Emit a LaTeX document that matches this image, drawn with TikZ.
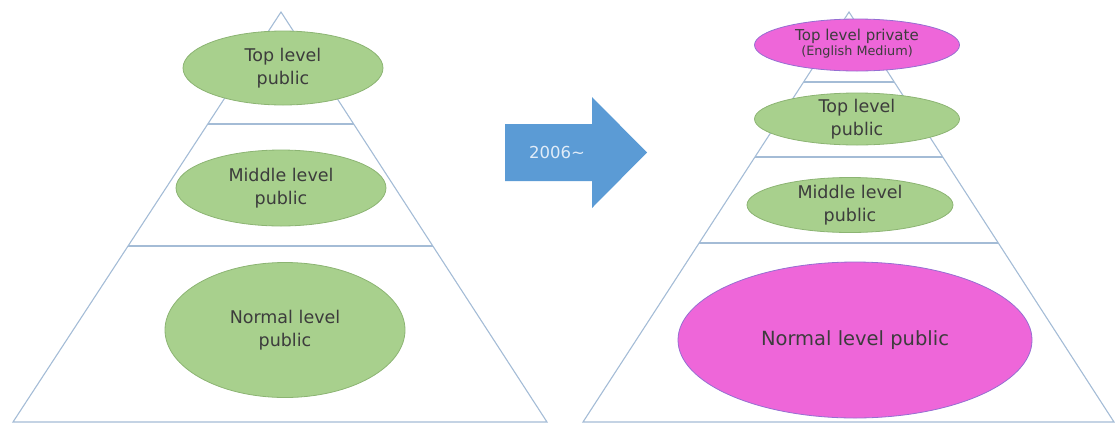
\documentclass[tikz,border=0pt]{standalone}
\usepackage{fontspec}
\setmainfont{DejaVu Sans}
\usetikzlibrary{shapes.geometric,calc}
\definecolor{tri}{RGB}{164,188,214}
\definecolor{gfill}{RGB}{168,208,141}
\definecolor{gline}{RGB}{140,180,115}
\definecolor{mfill}{RGB}{238,102,217}
\definecolor{mline}{RGB}{150,110,210}
\definecolor{arrowblue}{RGB}{91,155,213}
\definecolor{txtdark}{RGB}{60,60,60}
\definecolor{arrowtxt}{RGB}{225,236,248}
\begin{document}
\begin{tikzpicture}[x=1pt,y=-1pt,
  triline/.style={draw=tri,line width=1.1pt,line join=miter},
  greenell/.style={ellipse,draw=gline,fill=gfill,line width=0.8pt,inner sep=0pt},
  magell/.style={ellipse,draw=mline,fill=mfill,line width=0.8pt,inner sep=0pt},
  lbl/.style={align=center,text=txtdark,inner sep=0pt,font=\fontsize{17.5pt}{23pt}\selectfont}]
\useasboundingbox (0,0) rectangle (1115,440);
% left pyramid
\coordinate (LA) at (281,12);
\coordinate (LBL) at (13,422);
\coordinate (LBR) at (547,422);
\draw[triline] (LA) -- (LBL) -- (LBR) -- cycle;
\draw[triline] ($(LA)!0.2732!(LBL)$) -- ($(LA)!0.2732!(LBR)$);
\draw[triline] ($(LA)!0.5707!(LBL)$) -- ($(LA)!0.5707!(LBR)$);
% right pyramid
\coordinate (RA) at (849,12);
\coordinate (RBL) at (583,422);
\coordinate (RBR) at (1114,422);
\draw[triline] (RA) -- (RBL) -- (RBR) -- cycle;
\draw[triline] ($(RA)!0.1707!(RBL)$) -- ($(RA)!0.1707!(RBR)$);
\draw[triline] ($(RA)!0.3537!(RBL)$) -- ($(RA)!0.3537!(RBR)$);
\draw[triline] ($(RA)!0.5634!(RBL)$) -- ($(RA)!0.5634!(RBR)$);
% left ellipses
\node[greenell,minimum width=200pt,minimum height=74pt] (lt) at (283,68) {};
\node[lbl] (ltt) at (lt) {Top level\\public};
\node[greenell,minimum width=210pt,minimum height=76pt] (lm) at (281,188) {};
\node[lbl] (lmt) at (lm) {Middle level\\public};
\node[greenell,minimum width=240pt,minimum height=135pt] (ln) at (285,330) {};
\node[lbl] (lnt) at (ln) {Normal level\\public};
% arrow
\fill[arrowblue] (505,124) -- (592,124) -- (592,97) -- (647,152.5) -- (592,208) -- (592,181) -- (505,181) -- cycle;
\node[text=arrowtxt,inner sep=0pt,font=\fontsize{16.5pt}{19pt}\selectfont] (yr) at (557,152) {2006\textasciitilde};
% right ellipses
\node[magell,minimum width=205pt,minimum height=52pt] (rp) at (857,45) {};
\node[align=center,text=txtdark,inner sep=0pt] (rpt) at (857,44) {{\fontsize{15pt}{18pt}\selectfont Top level private}\\[1pt]{\fontsize{12.8pt}{14pt}\selectfont (English Medium)}};
\node[greenell,minimum width=205pt,minimum height=52pt] (rt) at (857,119) {};
\node[lbl] (rtt) at (rt) {Top level\\public};
\node[greenell,minimum width=206pt,minimum height=55pt] (rm) at (850,205) {};
\node[lbl] (rmt) at (rm) {Middle level\\public};
\node[magell,minimum width=354pt,minimum height=156pt] (rn) at (855,340) {};
\node[text=txtdark,inner sep=0pt,font=\fontsize{19.5pt}{23pt}\selectfont] (rnt) at (rn) {Normal level public};
\end{tikzpicture}
\end{document}
